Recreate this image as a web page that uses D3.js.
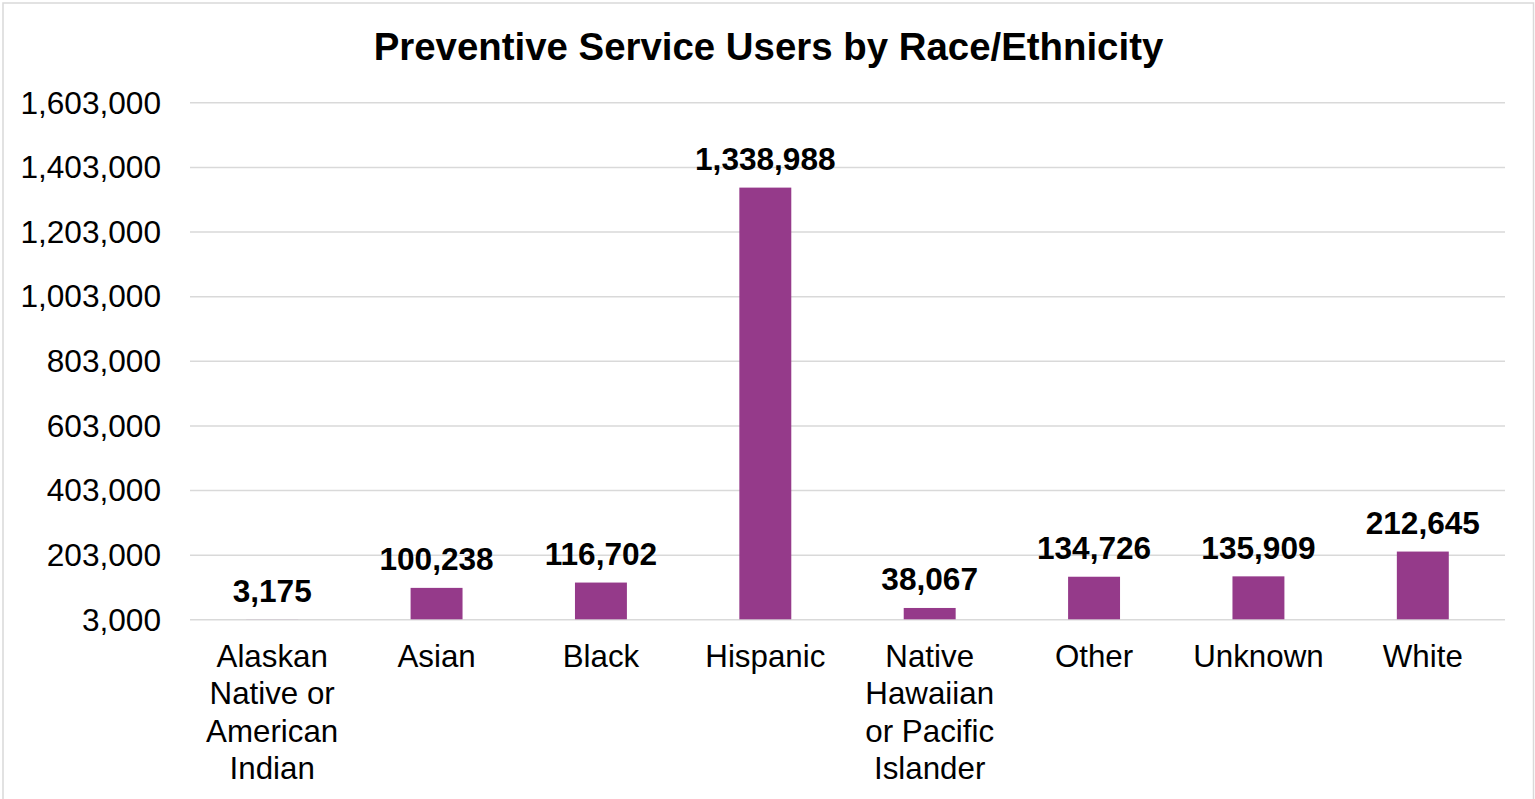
<!DOCTYPE html>
<html>
<head>
<meta charset="utf-8">
<script src="https://cdn.jsdelivr.net/npm/d3@7"></script>
<style>
  html, body { margin: 0; padding: 0; background: #fff; }
  svg { display: block; font-family: "Liberation Sans", Arial, sans-serif; }
</style>
</head>
<body>
<svg id="chart" width="1535" height="799"></svg>
<script>
// Preventive service users, by race/ethnicity
const categories = [
  "Alaskan Native or American Indian",
  "Asian",
  "Black",
  "Hispanic",
  "Native Hawaiian or Pacific Islander",
  "Other",
  "Unknown",
  "White"
];
const users = [3175, 100238, 116702, 1338988, 38067, 134726, 135909, 212645];
const yTicks = [3000, 203000, 403000, 603000, 803000, 1003000, 1203000, 1403000, 1603000];
const title = "Preventive Service Users by Race/Ethnicity";

const svg = d3.select("#chart");
const W = 1535, H = 799;
const plot = { left: 190, right: 1505, top: 102.3, bottom: 619.3 };

// chart frame
svg.append("rect")
  .attr("x", 3).attr("y", 3)
  .attr("width", W - 4.5).attr("height", H + 4)
  .attr("fill", "#fff")
  .attr("stroke", "#d9d9d9").attr("stroke-width", 1.5);

const x = d3.scaleBand()
  .domain(categories)
  .range([plot.left, plot.right])
  .paddingInner(0.684)
  .paddingOuter(0.342);

const y = d3.scaleLinear()
  .domain([3000, 1603000])
  .range([plot.bottom, plot.top]);

// title
svg.append("text")
  .attr("x", W / 2 + 1).attr("y", 60)
  .attr("text-anchor", "middle")
  .attr("font-size", 38.4).attr("font-weight", "bold")
  .attr("fill", "#000")
  .text(title);

// horizontal gridlines + value axis
const yAxis = d3.axisLeft(y)
  .tickValues(yTicks)
  .tickSize(-(plot.right - plot.left))
  .tickPadding(29)
  .tickFormat(d3.format(","));

const gy = svg.append("g")
  .attr("transform", `translate(${plot.left},0)`)
  .call(yAxis);
gy.select(".domain").remove();
gy.selectAll(".tick line").attr("stroke", "#d9d9d9").attr("stroke-width", 1.5);
gy.selectAll(".tick text")
  .attr("font-size", 31.6).attr("fill", "#000")
  .attr("font-family", "'Liberation Sans', Arial, sans-serif")
  .attr("dy", "0.34em");

// bars
svg.append("g").selectAll("rect")
  .data(users)
  .join("rect")
  .attr("x", (d, i) => x(categories[i]))
  .attr("width", x.bandwidth())
  .attr("y", d => y(d))
  .attr("height", d => y(3000) - y(d))
  .attr("fill", "#953a8a");

// value labels
svg.append("g").selectAll("text")
  .data(users)
  .join("text")
  .attr("x", (d, i) => x(categories[i]) + x.bandwidth() / 2)
  .attr("y", d => y(d) - 17.5)
  .attr("text-anchor", "middle")
  .attr("font-size", 31.6).attr("font-weight", "bold")
  .attr("fill", "#000")
  .text(d => d3.format(",")(d));

// category axis labels, wrapped to the band width
const gx = svg.append("g");
const maxWidth = 150, lineGap = 37.3;
categories.forEach(cat => {
  const cx = x(cat) + x.bandwidth() / 2;
  const t = gx.append("text")
    .attr("x", cx)
    .attr("y", 667)
    .attr("text-anchor", "middle")
    .attr("font-size", 31.3)
    .attr("fill", "#000");
  const words = cat.split(" ");
  let line = [];
  let tspan = t.append("tspan").attr("x", cx).attr("dy", 0);
  words.forEach(w => {
    line.push(w);
    tspan.text(line.join(" "));
    if (tspan.node().getComputedTextLength() > maxWidth && line.length > 1) {
      line.pop();
      tspan.text(line.join(" "));
      line = [w];
      tspan = t.append("tspan")
        .attr("x", cx)
        .attr("dy", lineGap)
        .text(w);
    }
  });
});
</script>
</body>
</html>
